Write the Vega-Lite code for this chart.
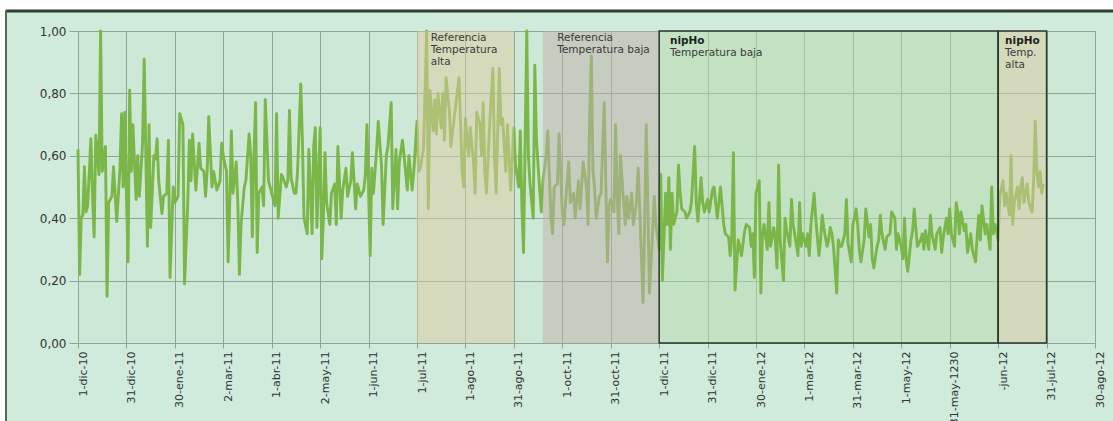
{
  "$schema": "https://vega.github.io/schema/vega-lite/v6.json",
  "width": 1017,
  "height": 312,
  "autosize": {"type": "none"},
  "padding": {"left": 78, "top": 31, "right": 18, "bottom": 78},
  "background": "#d0eadb",
  "config": {
    "view": {"fill": "#cde8d6", "stroke": null},
    "font": "DejaVu Sans",
    "axis": {"gridColor": "#8fa596", "gridOpacity": 1, "gridWidth": 1, "domainColor": "#8fa596", "tickColor": "#8fa596", "labelColor": "#333333", "title": null}
  },
  "datasets": {
    "series": [
{"d":0,"v":0.62},{"d":1,"v":0.22},{"d":2,"v":0.40},{"d":3,"v":0.41},{"d":4,"v":0.565},{"d":5,"v":0.42},{"d":6,"v":0.44},{"d":8,"v":0.655},{"d":9,"v":0.47},{"d":10,"v":0.34},{"d":11,"v":0.666},{"d":13,"v":0.54},{"d":14,"v":1.0},{"d":15,"v":0.55},{"d":17,"v":0.63},{"d":18,"v":0.15},{"d":19,"v":0.45},{"d":21,"v":0.47},{"d":22,"v":0.565},{"d":24,"v":0.39},{"d":26,"v":0.56},{"d":27,"v":0.735},{"d":28,"v":0.50},{"d":29,"v":0.74},{"d":30,"v":0.48},{"d":31,"v":0.26},{"d":32,"v":0.81},{"d":33,"v":0.55},{"d":34,"v":0.70},{"d":36,"v":0.46},{"d":37,"v":0.60},{"d":38,"v":0.47},{"d":40,"v":0.64},{"d":41,"v":0.91},{"d":43,"v":0.31},{"d":44,"v":0.70},{"d":45,"v":0.37},{"d":47,"v":0.60},{"d":48,"v":0.59},{"d":49,"v":0.655},{"d":50,"v":0.52},{"d":52,"v":0.415},{"d":53,"v":0.47},{"d":55,"v":0.48},{"d":56,"v":0.65},{"d":57,"v":0.21},{"d":59,"v":0.50},{"d":60,"v":0.45},{"d":62,"v":0.47},{"d":63,"v":0.735},{"d":65,"v":0.70},{"d":66,"v":0.19},{"d":68,"v":0.45},{"d":69,"v":0.65},{"d":70,"v":0.52},{"d":71,"v":0.67},{"d":73,"v":0.49},{"d":75,"v":0.64},{"d":76,"v":0.56},{"d":78,"v":0.55},{"d":79,"v":0.47},{"d":80,"v":0.55},{"d":81,"v":0.725},{"d":83,"v":0.50},{"d":84,"v":0.55},{"d":86,"v":0.49},{"d":88,"v":0.52},{"d":89,"v":0.64},{"d":90,"v":0.60},{"d":92,"v":0.55},{"d":93,"v":0.26},{"d":94,"v":0.45},{"d":95,"v":0.68},{"d":96,"v":0.48},{"d":98,"v":0.58},{"d":99,"v":0.45},{"d":100,"v":0.22},{"d":101,"v":0.38},{"d":103,"v":0.50},{"d":104,"v":0.52},{"d":106,"v":0.67},{"d":107,"v":0.60},{"d":108,"v":0.34},{"d":109,"v":0.60},{"d":110,"v":0.77},{"d":111,"v":0.29},{"d":112,"v":0.48},{"d":114,"v":0.50},{"d":115,"v":0.44},{"d":116,"v":0.78},{"d":118,"v":0.52},{"d":119,"v":0.50},{"d":120,"v":0.48},{"d":122,"v":0.44},{"d":123,"v":0.735},{"d":124,"v":0.40},{"d":126,"v":0.54},{"d":127,"v":0.53},{"d":129,"v":0.50},{"d":130,"v":0.52},{"d":131,"v":0.745},{"d":132,"v":0.53},{"d":134,"v":0.48},{"d":135,"v":0.48},{"d":136,"v":0.55},{"d":138,"v":0.83},{"d":139,"v":0.65},{"d":140,"v":0.40},{"d":142,"v":0.35},{"d":143,"v":0.62},{"d":145,"v":0.35},{"d":146,"v":0.63},{"d":147,"v":0.69},{"d":148,"v":0.37},{"d":150,"v":0.69},{"d":151,"v":0.27},{"d":152,"v":0.40},{"d":153,"v":0.61},{"d":154,"v":0.45},{"d":156,"v":0.38},{"d":157,"v":0.48},{"d":159,"v":0.51},{"d":160,"v":0.38},{"d":161,"v":0.63},{"d":163,"v":0.40},{"d":164,"v":0.49},{"d":166,"v":0.56},{"d":167,"v":0.47},{"d":169,"v":0.52},{"d":170,"v":0.61},{"d":172,"v":0.43},{"d":173,"v":0.51},{"d":175,"v":0.47},{"d":177,"v":0.49},{"d":178,"v":0.54},{"d":179,"v":0.70},{"d":181,"v":0.28},{"d":182,"v":0.56},{"d":183,"v":0.48},{"d":185,"v":0.62},{"d":186,"v":0.71},{"d":188,"v":0.57},{"d":189,"v":0.38},{"d":191,"v":0.60},{"d":192,"v":0.63},{"d":194,"v":0.77},{"d":195,"v":0.43},{"d":197,"v":0.62},{"d":198,"v":0.43},{"d":199,"v":0.58},{"d":201,"v":0.65},{"d":202,"v":0.60},{"d":204,"v":0.49},{"d":205,"v":0.60},{"d":207,"v":0.49},{"d":208,"v":0.55},{"d":210,"v":0.71},{"d":211,"v":0.55},{"d":212,"v":0.56},{"d":214,"v":0.62},{"d":216,"v":1.0},{"d":217,"v":0.43},{"d":218,"v":0.81},{"d":220,"v":0.68},{"d":221,"v":0.78},{"d":222,"v":0.67},{"d":223,"v":0.80},{"d":225,"v":0.69},{"d":226,"v":0.80},{"d":227,"v":0.65},{"d":228,"v":0.85},{"d":230,"v":0.75},{"d":231,"v":0.63},{"d":233,"v":0.72},{"d":236,"v":0.85},{"d":238,"v":0.55},{"d":239,"v":0.50},{"d":240,"v":0.72},{"d":242,"v":0.60},{"d":243,"v":0.69},{"d":245,"v":0.58},{"d":246,"v":0.48},{"d":247,"v":0.74},{"d":249,"v":0.70},{"d":250,"v":0.60},{"d":251,"v":0.77},{"d":252,"v":0.55},{"d":253,"v":0.48},{"d":255,"v":0.70},{"d":257,"v":0.88},{"d":258,"v":0.60},{"d":259,"v":0.48},{"d":261,"v":0.88},{"d":262,"v":0.70},{"d":263,"v":0.72},{"d":265,"v":0.55},{"d":266,"v":0.70},{"d":268,"v":0.49},{"d":270,"v":0.69},{"d":271,"v":0.57},{"d":273,"v":0.50},{"d":274,"v":0.68},{"d":275,"v":0.43},{"d":276,"v":0.29},{"d":277,"v":0.65},{"d":278,"v":1.0},{"d":279,"v":0.60},{"d":280,"v":0.51},{"d":282,"v":0.40},{"d":283,"v":0.89},{"d":284,"v":0.65},{"d":286,"v":0.49},{"d":287,"v":0.42},{"d":288,"v":0.52},{"d":290,"v":0.60},{"d":291,"v":0.68},{"d":293,"v":0.40},{"d":294,"v":0.35},{"d":295,"v":0.50},{"d":297,"v":0.51},{"d":298,"v":0.67},{"d":300,"v":0.42},{"d":301,"v":0.38},{"d":302,"v":0.45},{"d":304,"v":0.58},{"d":305,"v":0.45},{"d":307,"v":0.48},{"d":308,"v":0.40},{"d":310,"v":0.52},{"d":311,"v":0.43},{"d":313,"v":0.58},{"d":315,"v":0.50},{"d":316,"v":0.38},{"d":317,"v":0.74},{"d":318,"v":0.92},{"d":319,"v":0.55},{"d":320,"v":0.50},{"d":321,"v":0.40},{"d":323,"v":0.47},{"d":324,"v":0.48},{"d":326,"v":0.77},{"d":327,"v":0.50},{"d":328,"v":0.26},{"d":329,"v":0.44},{"d":330,"v":0.46},{"d":332,"v":0.42},{"d":333,"v":0.70},{"d":334,"v":0.47},{"d":335,"v":0.35},{"d":336,"v":0.60},{"d":338,"v":0.45},{"d":339,"v":0.38},{"d":340,"v":0.47},{"d":341,"v":0.40},{"d":343,"v":0.48},{"d":344,"v":0.38},{"d":346,"v":0.45},{"d":347,"v":0.56},{"d":348,"v":0.43},{"d":350,"v":0.13},{"d":351,"v":0.37},{"d":352,"v":0.70},{"d":353,"v":0.44},{"d":354,"v":0.16},{"d":356,"v":0.36},{"d":357,"v":0.47},{"d":358,"v":0.38},{"d":360,"v":0.30},{"d":361,"v":0.54},{"d":362,"v":0.20},{"d":364,"v":0.48},{"d":365,"v":0.38},{"d":366,"v":0.53},{"d":367,"v":0.30},{"d":368,"v":0.48},{"d":369,"v":0.38},{"d":371,"v":0.42},{"d":372,"v":0.57},{"d":373,"v":0.48},{"d":374,"v":0.43},{"d":376,"v":0.42},{"d":377,"v":0.40},{"d":379,"v":0.42},{"d":380,"v":0.45},{"d":382,"v":0.63},{"d":383,"v":0.45},{"d":384,"v":0.39},{"d":386,"v":0.53},{"d":387,"v":0.45},{"d":388,"v":0.42},{"d":390,"v":0.46},{"d":391,"v":0.42},{"d":393,"v":0.49},{"d":394,"v":0.50},{"d":396,"v":0.40},{"d":397,"v":0.45},{"d":398,"v":0.50},{"d":400,"v":0.38},{"d":401,"v":0.35},{"d":403,"v":0.34},{"d":404,"v":0.28},{"d":405,"v":0.34},{"d":406,"v":0.61},{"d":407,"v":0.17},{"d":409,"v":0.33},{"d":410,"v":0.31},{"d":411,"v":0.28},{"d":413,"v":0.36},{"d":414,"v":0.38},{"d":416,"v":0.37},{"d":417,"v":0.31},{"d":418,"v":0.35},{"d":419,"v":0.21},{"d":420,"v":0.48},{"d":422,"v":0.52},{"d":423,"v":0.16},{"d":424,"v":0.35},{"d":425,"v":0.38},{"d":427,"v":0.30},{"d":428,"v":0.45},{"d":429,"v":0.31},{"d":431,"v":0.37},{"d":432,"v":0.33},{"d":433,"v":0.24},{"d":434,"v":0.57},{"d":435,"v":0.33},{"d":437,"v":0.20},{"d":438,"v":0.40},{"d":439,"v":0.36},{"d":441,"v":0.31},{"d":442,"v":0.46},{"d":443,"v":0.38},{"d":444,"v":0.35},{"d":446,"v":0.28},{"d":447,"v":0.45},{"d":448,"v":0.31},{"d":449,"v":0.35},{"d":451,"v":0.31},{"d":452,"v":0.35},{"d":453,"v":0.28},{"d":454,"v":0.38},{"d":456,"v":0.48},{"d":457,"v":0.40},{"d":459,"v":0.28},{"d":460,"v":0.33},{"d":461,"v":0.41},{"d":462,"v":0.37},{"d":464,"v":0.31},{"d":465,"v":0.33},{"d":466,"v":0.37},{"d":467,"v":0.35},{"d":468,"v":0.31},{"d":470,"v":0.16},{"d":471,"v":0.33},{"d":472,"v":0.31},{"d":473,"v":0.31},{"d":475,"v":0.35},{"d":476,"v":0.46},{"d":477,"v":0.32},{"d":479,"v":0.26},{"d":480,"v":0.38},{"d":481,"v":0.40},{"d":482,"v":0.43},{"d":483,"v":0.38},{"d":484,"v":0.30},{"d":485,"v":0.26},{"d":487,"v":0.33},{"d":488,"v":0.43},{"d":490,"v":0.34},{"d":491,"v":0.38},{"d":492,"v":0.27},{"d":493,"v":0.24},{"d":495,"v":0.31},{"d":496,"v":0.33},{"d":497,"v":0.41},{"d":498,"v":0.35},{"d":500,"v":0.30},{"d":501,"v":0.34},{"d":503,"v":0.35},{"d":504,"v":0.42},{"d":506,"v":0.40},{"d":507,"v":0.30},{"d":508,"v":0.35},{"d":510,"v":0.31},{"d":511,"v":0.27},{"d":512,"v":0.40},{"d":513,"v":0.27},{"d":514,"v":0.23},{"d":516,"v":0.33},{"d":517,"v":0.36},{"d":518,"v":0.43},{"d":519,"v":0.37},{"d":520,"v":0.31},{"d":522,"v":0.33},{"d":523,"v":0.35},{"d":524,"v":0.30},{"d":525,"v":0.36},{"d":527,"v":0.30},{"d":528,"v":0.41},{"d":529,"v":0.35},{"d":531,"v":0.30},{"d":532,"v":0.35},{"d":534,"v":0.37},{"d":535,"v":0.29},{"d":536,"v":0.34},{"d":538,"v":0.40},{"d":539,"v":0.35},{"d":540,"v":0.43},{"d":541,"v":0.35},{"d":543,"v":0.31},{"d":544,"v":0.45},{"d":545,"v":0.42},{"d":546,"v":0.35},{"d":547,"v":0.42},{"d":549,"v":0.36},{"d":550,"v":0.38},{"d":551,"v":0.29},{"d":553,"v":0.35},{"d":554,"v":0.30},{"d":556,"v":0.26},{"d":557,"v":0.34},{"d":558,"v":0.41},{"d":559,"v":0.33},{"d":560,"v":0.44},{"d":562,"v":0.35},{"d":563,"v":0.38},{"d":565,"v":0.30},{"d":566,"v":0.50},{"d":567,"v":0.35},{"d":568,"v":0.38},{"d":569,"v":0.36},{"d":570,"v":0.33},{"d":571,"v":0.47},{"d":573,"v":0.52},{"d":574,"v":0.44},{"d":575,"v":0.48},{"d":577,"v":0.41},{"d":578,"v":0.60},{"d":579,"v":0.38},{"d":580,"v":0.45},{"d":582,"v":0.50},{"d":583,"v":0.43},{"d":584,"v":0.50},{"d":585,"v":0.53},{"d":586,"v":0.45},{"d":587,"v":0.48},{"d":588,"v":0.51},{"d":589,"v":0.45},{"d":591,"v":0.42},{"d":592,"v":0.52},{"d":593,"v":0.71},{"d":594,"v":0.55},{"d":595,"v":0.50},{"d":596,"v":0.55},{"d":597,"v":0.48},{"d":598,"v":0.51}
    ],
    "zones": [
      {"zone": "ra", "start": 210, "end": 270},
      {"zone": "rb", "start": 288, "end": 360},
      {"zone": "nb", "start": 360, "end": 570},
      {"zone": "na", "start": 570, "end": 600}
    ],
    "notes": [
      {"d": 218.5, "v": 0.994, "t": "Referencia\nTemperatura\nalta"},
      {"d": 296.9, "v": 0.994, "t": "Referencia\nTemperatura baja"},
      {"d": 366.7, "v": 0.944, "t": "Temperatura baja"},
      {"d": 574.3, "v": 0.944, "t": "Temp.\nalta"}
    ],
    "boldnotes": [
      {"d": 366.7, "v": 0.983, "t": "nipHo"},
      {"d": 574.3, "v": 0.983, "t": "nipHo"}
    ],
    "one": [{"k": 1}]
  },
  "layer": [
    {
      "data": {"name": "one"},
      "mark": {"type": "rect", "fill": "#ffffff"},
      "encoding": {
        "x": {"datum": -100, "type": "quantitative"},
        "x2": {"datum": 800},
        "y": {"datum": 1.067, "type": "quantitative"},
        "y2": {"datum": 1.3}
      }
    },
    {
      "data": {"name": "one"},
      "mark": {"type": "rect", "fill": "#ffffff"},
      "encoding": {
        "x": {"datum": -100, "type": "quantitative"},
        "x2": {"datum": -44.6},
        "y": {"datum": -0.5, "type": "quantitative"},
        "y2": {"datum": 1.3}
      }
    },
    {
      "data": {"name": "zones"},
      "transform": [{"filter": "datum.zone == 'nb'"}],
      "mark": {"type": "rect", "fill": "#b9dcb0", "opacity": 0.5},
      "encoding": {
        "x": {"field": "start", "type": "quantitative", "scale": {"domain": [0, 630], "nice": false, "zero": false}},
        "x2": {"field": "end"},
        "y": {"datum": 0, "type": "quantitative", "scale": {"domain": [0, 1], "nice": false}},
        "y2": {"datum": 1}
      }
    },
    {
      "data": {"name": "series"},
      "mark": {"type": "line", "color": "#7ab648", "strokeWidth": 2.9, "strokeJoin": "round"},
      "encoding": {
        "x": {
          "field": "d", "type": "quantitative",
          "scale": {"domain": [0, 630], "nice": false, "zero": false},
          "axis": {
            "values": [0,30,60,90,120,150,180,210,240,270,300,330,360,390,420,450,480,510,540,570,600,630],
            "labelExpr": "['1-dic-10','31-dic-10','30-ene-11','2-mar-11','1-abr-11','2-may-11','1-jun-11','1-jul-11','1-ago-11','31-ago-11','1-oct-11','31-oct-11','1-dic-11','31-dic-11','30-ene-12','1-mar-12','31-mar-12','1-may-12','31-may-1230','-jun-12','31-jul-12','30-ago-12'][round(datum.value/30)]",
            "labelAngle": -90,
            "labelFontSize": 11,
            "labelPadding": 3,
            "labelOffset": 5,
            "tickSize": 5,
            "labelOverlap": false,
            "labelBound": false,
            "labelFlush": false,
            "grid": true
          }
        },
        "y": {
          "field": "v", "type": "quantitative",
          "scale": {"domain": [0, 1], "nice": false},
          "axis": {
            "values": [0,0.1,0.2,0.3,0.4,0.5,0.6,0.7,0.8,0.9,1],
            "labelExpr": "replace(format(datum.value, '.2f'), '.', ',')",
            "labelFontSize": 12,
            "labelPadding": 3,
            "tickSize": 9,
            "grid": true,
            "labelFlush": false
          }
        }
      }
    },
    {
      "data": {"name": "zones"},
      "transform": [{"filter": "datum.zone != 'nb'"}],
      "mark": {"type": "rect", "opacity": 0.5},
      "encoding": {
        "x": {"field": "start", "type": "quantitative"},
        "x2": {"field": "end"},
        "y": {"datum": 0, "type": "quantitative"},
        "y2": {"datum": 1},
        "color": {
          "field": "zone", "type": "nominal", "legend": null,
          "scale": {"domain": ["ra", "rb", "na"], "range": ["#dfcca4", "#c1b0aa", "#ddcaa2"]}
        }
      }
    },
    {
      "data": {"name": "zones"},
      "transform": [{"filter": "datum.zone == 'nb' || datum.zone == 'na'"}],
      "mark": {"type": "rect", "fillOpacity": 0, "stroke": "#2b372c", "strokeWidth": 1.5},
      "encoding": {
        "x": {"field": "start", "type": "quantitative"},
        "x2": {"field": "end"},
        "y": {"datum": 0, "type": "quantitative"},
        "y2": {"datum": 1}
      }
    },
    {
      "data": {"name": "notes"},
      "mark": {"type": "text", "align": "left", "baseline": "top", "fontSize": 10.5, "lineHeight": 12, "lineBreak": "\n", "color": "#3a3a3a", "font": "DejaVu Sans"},
      "encoding": {
        "x": {"field": "d", "type": "quantitative"},
        "y": {"field": "v", "type": "quantitative"},
        "text": {"field": "t"}
      }
    },
    {
      "data": {"name": "boldnotes"},
      "mark": {"type": "text", "align": "left", "baseline": "top", "fontSize": 10.5, "fontWeight": "bold", "color": "#1e1e1e", "font": "DejaVu Sans"},
      "encoding": {
        "x": {"field": "d", "type": "quantitative"},
        "y": {"field": "v", "type": "quantitative"},
        "text": {"field": "t"}
      }
    },
    {
      "data": {"name": "one"},
      "mark": {"type": "rule", "color": "#2f3a30", "strokeWidth": 3},
      "encoding": {
        "x": {"datum": -44.6, "type": "quantitative"},
        "x2": {"datum": 800},
        "y": {"datum": 1.064, "type": "quantitative"}
      }
    },
    {
      "data": {"name": "one"},
      "mark": {"type": "rule", "color": "#556b57", "strokeWidth": 2},
      "encoding": {
        "x": {"datum": -44.6, "type": "quantitative"},
        "y": {"datum": -0.5, "type": "quantitative"},
        "y2": {"datum": 1.067}
      }
    }
  ]
}
